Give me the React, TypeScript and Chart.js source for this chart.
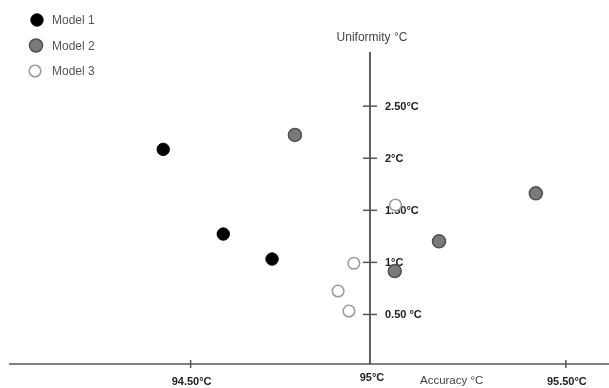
import React, { useEffect, useRef } from "react";
import { Chart, registerables } from "chart.js";

Chart.register(...registerables);

const seriesNames = ["Model 1", "Model 2", "Model 3"];
const model1X = [94.427, 94.587, 94.717];
const model1Y = [2.085, 1.272, 1.032];
const model2X = [94.778, 95.162, 95.42, 95.044];
const model2Y = [2.223, 1.202, 1.663, 0.917];
const model3X = [95.046, 94.935, 94.893, 94.922];
const model3Y = [1.551, 0.991, 0.725, 0.533];

const xTickValues = [94.5, 95.5];
const xTickLabels = ["94.50°C", "95.50°C"];
const yTickValues = [0.5, 1, 1.5, 2, 2.5];
const yTickLabels = ["0.50 °C", "1°C", "1.50°C", "2°C", "2.50°C"];
const crossX = 94.978; // where the vertical axis crosses
const crossY = 0.025; // where the horizontal axis crosses
const crossXLabel = "95°C";
const xTitle = "Accuracy °C";
const yTitle = "Uniformity °C";
const xMin = 93.992;
const xMax = 95.615;
const yMin = -0.206;
const yMax = 3.519;
const yAxisTop = 3.02;
const xAxisStart = 94.016;

const FONT = "'Liberation Sans', Arial, sans-serif";

const toPts = (xs: number[], ys: number[]) => xs.map((x, i) => ({ x, y: ys[i] }));

const axesPlugin = {
  id: "customAxes",
  beforeDatasetsDraw(chart: any) {
    const { ctx, scales } = chart;
    const xs = scales.x;
    const ys = scales.y;
    const ax = xs.getPixelForValue(crossX);
    const ay = ys.getPixelForValue(crossY);
    ctx.save();
    // horizontal axis
    ctx.strokeStyle = "#808080";
    ctx.lineWidth = 2;
    ctx.beginPath();
    ctx.moveTo(xs.getPixelForValue(xAxisStart), ay);
    ctx.lineTo(xs.getPixelForValue(xMax), ay);
    ctx.stroke();
    // vertical axis
    ctx.strokeStyle = "#3a3a3a";
    ctx.lineWidth = 1.6;
    ctx.beginPath();
    ctx.moveTo(ax, ys.getPixelForValue(yAxisTop));
    ctx.lineTo(ax, ay);
    ctx.stroke();
    // x ticks
    ctx.strokeStyle = "#555";
    ctx.lineWidth = 1.5;
    ctx.fillStyle = "#222";
    ctx.font = `bold 11px ${FONT}`;
    ctx.textAlign = "center";
    ctx.textBaseline = "middle";
    xTickValues.forEach((v, i) => {
      const px = xs.getPixelForValue(v);
      ctx.beginPath();
      ctx.moveTo(px, ay - 4);
      ctx.lineTo(px, ay + 4);
      ctx.stroke();
      ctx.fillText(xTickLabels[i], px + 1, ay + 18);
    });
    ctx.fillText(crossXLabel, ax + 2, ay + 14);
    // y ticks
    ctx.textAlign = "left";
    yTickValues.forEach((v, i) => {
      const py = ys.getPixelForValue(v);
      ctx.strokeStyle = "#555";
      ctx.beginPath();
      ctx.moveTo(ax - 7, py);
      ctx.lineTo(ax + 7, py);
      ctx.stroke();
      ctx.fillText(yTickLabels[i], ax + 15, py + 1);
    });
    // titles
    ctx.fillStyle = "#444";
    ctx.font = `12px ${FONT}`;
    ctx.textAlign = "center";
    ctx.fillText(yTitle, ax + 2, ys.getPixelForValue(yAxisTop) - 14);
    ctx.textAlign = "left";
    ctx.font = `11.5px ${FONT}`;
    ctx.fillText(xTitle, ax + 50, ay + 17);
    ctx.restore();
  },
  afterDraw(chart: any) {
    const { ctx } = chart;
    ctx.save();
    chart.data.datasets.forEach((ds: any, i: number) => {
      const cy = 20 + i * 25.5;
      const cx = 37 - i;
      ctx.beginPath();
      ctx.arc(cx, cy, ds.pointRadius, 0, Math.PI * 2);
      ctx.fillStyle = ds.backgroundColor;
      ctx.fill();
      ctx.lineWidth = ds.borderWidth;
      ctx.strokeStyle = ds.borderColor;
      ctx.stroke();
      ctx.fillStyle = "#555";
      ctx.font = `12px ${FONT}`;
      ctx.textAlign = "left";
      ctx.textBaseline = "middle";
      ctx.fillText(seriesNames[i], 52, cy + 1);
    });
    ctx.restore();
  },
};

export default function App() {
  const ref = useRef<HTMLCanvasElement | null>(null);
  useEffect(() => {
    if (!ref.current) return;
    const chart = new Chart(ref.current, {
      type: "scatter",
      data: {
        datasets: [
          {
            label: seriesNames[0],
            data: toPts(model1X, model1Y),
            backgroundColor: "#000000",
            borderColor: "#000000",
            borderWidth: 1,
            pointRadius: 6.2,
          },
          {
            label: seriesNames[1],
            data: toPts(model2X, model2Y),
            backgroundColor: "#7a7a7a",
            borderColor: "#505050",
            borderWidth: 1.5,
            pointRadius: 6.5,
          },
          {
            label: seriesNames[2],
            data: toPts(model3X, model3Y),
            backgroundColor: "#ffffff",
            borderColor: "#9a9a9a",
            borderWidth: 1.5,
            pointRadius: 5.8,
          },
        ],
      },
      options: {
        responsive: false,
        animation: false,
        layout: { padding: 0, autoPadding: false },
        plugins: { legend: { display: false }, tooltip: { enabled: false } },
        scales: {
          x: { type: "linear", min: xMin, max: xMax, display: false },
          y: { type: "linear", min: yMin, max: yMax, display: false },
        },
      },
      plugins: [axesPlugin],
    });
    return () => chart.destroy();
  }, []);
  return (
    <div style={{ position: "fixed", left: 0, top: 0, width: 609, height: 388, background: "#fff" }}>
      <canvas ref={ref} width={609} height={388} style={{ display: "block" }} />
    </div>
  );
}
